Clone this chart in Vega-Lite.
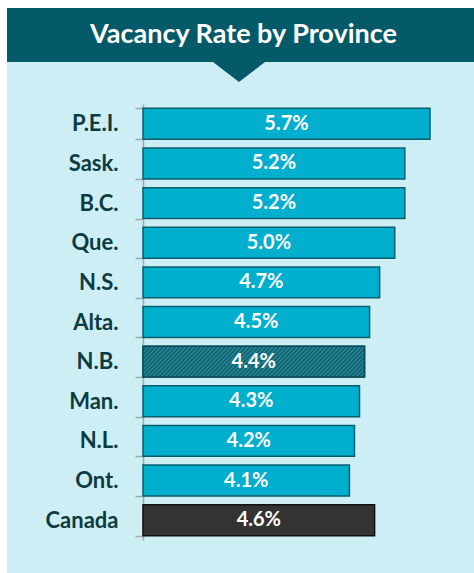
{
  "$schema": "https://vega.github.io/schema/vega-lite/v6.json",
  "background": "white",
  "padding": {"left": 7, "top": 8, "right": 0, "bottom": 0},
  "config": {"view": {"stroke": null}, "font": "Lato"},
  "spacing": 0,
  "bounds": "flush",
  "vconcat": [
    {
      "width": 467,
      "height": 54,
      "view": {"fill": "#045a68", "stroke": null},
      "data": {"values": [{"t": "Vacancy Rate by Province"}]},
      "mark": {"type": "text", "font": "Lato", "fontWeight": "bold", "fontSize": 27, "color": "white", "dx": 3, "baseline": "middle"},
      "encoding": {"text": {"field": "t"}}
    },
    {
      "width": 467,
      "height": 511,
      "view": {"fill": "#cdeef5", "stroke": null},
      "data": {"values": [
        {"p": "P.E.I.", "v": 5.7},
        {"p": "Sask.", "v": 5.2},
        {"p": "B.C.", "v": 5.2},
        {"p": "Que.", "v": 5.0},
        {"p": "N.S.", "v": 4.7},
        {"p": "Alta.", "v": 4.5},
        {"p": "N.B.", "v": 4.4},
        {"p": "Man.", "v": 4.3},
        {"p": "N.L.", "v": 4.2},
        {"p": "Ont.", "v": 4.1},
        {"p": "Canada", "v": 4.6}
      ]},
      "resolve": {"scale": {"y": "independent"}},
      "layer": [
        {
          "encoding": {
            "y": {"field": "p", "type": "nominal", "sort": ["P.E.I.", "Sask.", "B.C.", "Que.", "N.S.", "Alta.", "N.B.", "Man.", "N.L.", "Ont.", "Canada"],
              "scale": {"range": [42, 478], "paddingInner": 0.22, "paddingOuter": 0.11},
              "axis": {"title": null, "offset": -136, "domainColor": "#a6a6a6", "domainWidth": 1.5, "tickColor": "#a6a6a6", "tickWidth": 1.5, "tickSize": 8, "tickBand": "extent", "labelFont": "Lato", "labelFontWeight": "bold", "labelFontSize": 22, "labelColor": "#0d3b42", "labelPadding": 17, "grid": false}},
            "x": {"field": "v", "type": "quantitative", "scale": {"domain": [-2.701, 6.574], "nice": false, "zero": false}, "axis": null}
          },
          "layer": [
            {
              "mark": {"type": "bar", "strokeWidth": 1.5},
              "encoding": {
                "fill": {"condition": {"test": "datum.p === 'Canada'", "value": "#333333"}, "value": "#00aecd"},
                "stroke": {"condition": {"test": "datum.p === 'Canada'", "value": "#111111"}, "value": "#0b5f6d"}
              }
            },
            {
              "transform": [{"filter": "datum.p === 'N.B.'"}],
              "mark": {"type": "bar", "strokeWidth": 1.5, "stroke": "#0b4c57", "fill": {"gradient": "linear", "x1": 0, "y1": 0, "x2": 1.15, "y2": 0.155, "stops": [
                {"offset": 0, "color": "#0b5866"}, {"offset": 0.008, "color": "#2b8c9a"}, {"offset": 0.016, "color": "#0b5866"}, {"offset": 0.024, "color": "#2b8c9a"}, {"offset": 0.032, "color": "#0b5866"}, {"offset": 0.04, "color": "#2b8c9a"}, {"offset": 0.048, "color": "#0b5866"}, {"offset": 0.056, "color": "#2b8c9a"}, {"offset": 0.064, "color": "#0b5866"}, {"offset": 0.072, "color": "#2b8c9a"},
                {"offset": 0.08, "color": "#0b5866"}, {"offset": 0.088, "color": "#2b8c9a"}, {"offset": 0.096, "color": "#0b5866"}, {"offset": 0.104, "color": "#2b8c9a"}, {"offset": 0.112, "color": "#0b5866"}, {"offset": 0.12, "color": "#2b8c9a"}, {"offset": 0.128, "color": "#0b5866"}, {"offset": 0.136, "color": "#2b8c9a"}, {"offset": 0.144, "color": "#0b5866"}, {"offset": 0.152, "color": "#2b8c9a"},
                {"offset": 0.16, "color": "#0b5866"}, {"offset": 0.168, "color": "#2b8c9a"}, {"offset": 0.176, "color": "#0b5866"}, {"offset": 0.184, "color": "#2b8c9a"}, {"offset": 0.192, "color": "#0b5866"}, {"offset": 0.2, "color": "#2b8c9a"}, {"offset": 0.208, "color": "#0b5866"}, {"offset": 0.216, "color": "#2b8c9a"}, {"offset": 0.224, "color": "#0b5866"}, {"offset": 0.232, "color": "#2b8c9a"},
                {"offset": 0.24, "color": "#0b5866"}, {"offset": 0.248, "color": "#2b8c9a"}, {"offset": 0.256, "color": "#0b5866"}, {"offset": 0.264, "color": "#2b8c9a"}, {"offset": 0.272, "color": "#0b5866"}, {"offset": 0.28, "color": "#2b8c9a"}, {"offset": 0.288, "color": "#0b5866"}, {"offset": 0.296, "color": "#2b8c9a"}, {"offset": 0.304, "color": "#0b5866"}, {"offset": 0.312, "color": "#2b8c9a"},
                {"offset": 0.32, "color": "#0b5866"}, {"offset": 0.328, "color": "#2b8c9a"}, {"offset": 0.336, "color": "#0b5866"}, {"offset": 0.344, "color": "#2b8c9a"}, {"offset": 0.352, "color": "#0b5866"}, {"offset": 0.36, "color": "#2b8c9a"}, {"offset": 0.368, "color": "#0b5866"}, {"offset": 0.376, "color": "#2b8c9a"}, {"offset": 0.384, "color": "#0b5866"}, {"offset": 0.392, "color": "#2b8c9a"},
                {"offset": 0.4, "color": "#0b5866"}, {"offset": 0.408, "color": "#2b8c9a"}, {"offset": 0.416, "color": "#0b5866"}, {"offset": 0.424, "color": "#2b8c9a"}, {"offset": 0.432, "color": "#0b5866"}, {"offset": 0.44, "color": "#2b8c9a"}, {"offset": 0.448, "color": "#0b5866"}, {"offset": 0.456, "color": "#2b8c9a"}, {"offset": 0.464, "color": "#0b5866"}, {"offset": 0.472, "color": "#2b8c9a"},
                {"offset": 0.48, "color": "#0b5866"}, {"offset": 0.488, "color": "#2b8c9a"}, {"offset": 0.496, "color": "#0b5866"}, {"offset": 0.504, "color": "#2b8c9a"}, {"offset": 0.512, "color": "#0b5866"}, {"offset": 0.52, "color": "#2b8c9a"}, {"offset": 0.528, "color": "#0b5866"}, {"offset": 0.536, "color": "#2b8c9a"}, {"offset": 0.544, "color": "#0b5866"}, {"offset": 0.552, "color": "#2b8c9a"},
                {"offset": 0.56, "color": "#0b5866"}, {"offset": 0.568, "color": "#2b8c9a"}, {"offset": 0.576, "color": "#0b5866"}, {"offset": 0.584, "color": "#2b8c9a"}, {"offset": 0.592, "color": "#0b5866"}, {"offset": 0.6, "color": "#2b8c9a"}, {"offset": 0.608, "color": "#0b5866"}, {"offset": 0.616, "color": "#2b8c9a"}, {"offset": 0.624, "color": "#0b5866"}, {"offset": 0.632, "color": "#2b8c9a"},
                {"offset": 0.64, "color": "#0b5866"}, {"offset": 0.648, "color": "#2b8c9a"}, {"offset": 0.656, "color": "#0b5866"}, {"offset": 0.664, "color": "#2b8c9a"}, {"offset": 0.672, "color": "#0b5866"}, {"offset": 0.68, "color": "#2b8c9a"}, {"offset": 0.688, "color": "#0b5866"}, {"offset": 0.696, "color": "#2b8c9a"}, {"offset": 0.704, "color": "#0b5866"}, {"offset": 0.712, "color": "#2b8c9a"},
                {"offset": 0.72, "color": "#0b5866"}, {"offset": 0.728, "color": "#2b8c9a"}, {"offset": 0.736, "color": "#0b5866"}, {"offset": 0.744, "color": "#2b8c9a"}, {"offset": 0.752, "color": "#0b5866"}, {"offset": 0.76, "color": "#2b8c9a"}, {"offset": 0.768, "color": "#0b5866"}, {"offset": 0.776, "color": "#2b8c9a"}, {"offset": 0.784, "color": "#0b5866"}, {"offset": 0.792, "color": "#2b8c9a"},
                {"offset": 0.8, "color": "#0b5866"}, {"offset": 0.808, "color": "#2b8c9a"}, {"offset": 0.816, "color": "#0b5866"}, {"offset": 0.824, "color": "#2b8c9a"}, {"offset": 0.832, "color": "#0b5866"}, {"offset": 0.84, "color": "#2b8c9a"}, {"offset": 0.848, "color": "#0b5866"}, {"offset": 0.856, "color": "#2b8c9a"}, {"offset": 0.864, "color": "#0b5866"}, {"offset": 0.872, "color": "#2b8c9a"},
                {"offset": 0.88, "color": "#0b5866"}, {"offset": 0.888, "color": "#2b8c9a"}, {"offset": 0.896, "color": "#0b5866"}, {"offset": 0.904, "color": "#2b8c9a"}, {"offset": 0.912, "color": "#0b5866"}, {"offset": 0.92, "color": "#2b8c9a"}, {"offset": 0.928, "color": "#0b5866"}, {"offset": 0.936, "color": "#2b8c9a"}, {"offset": 0.944, "color": "#0b5866"}, {"offset": 0.952, "color": "#2b8c9a"},
                {"offset": 0.96, "color": "#0b5866"}, {"offset": 0.968, "color": "#2b8c9a"}, {"offset": 0.976, "color": "#0b5866"}, {"offset": 0.984, "color": "#2b8c9a"}, {"offset": 0.992, "color": "#0b5866"}, {"offset": 1, "color": "#2b8c9a"}
              ]}}
            },
            {
              "transform": [
                {"calculate": "datum.v / 2", "as": "mid"},
                {"calculate": "format(datum.v, '.1f') + '%'", "as": "lab"}
              ],
              "mark": {"type": "text", "font": "Lato", "fontWeight": "bold", "fontSize": 20, "color": "white", "baseline": "middle", "align": "center"},
              "encoding": {
                "x": {"field": "mid", "type": "quantitative"},
                "text": {"field": "lab"}
              }
            }
          ]
        },
        {
          "data": {"values": [{"cx": 1.907, "cy": 1}]},
          "mark": {"type": "point", "shape": "M-1,0L1,0L0,0.77Z", "size": 2704, "filled": true, "fill": "#045a68", "opacity": 1, "strokeWidth": 0},
          "encoding": {
            "x": {"field": "cx", "type": "quantitative"},
            "y": {"field": "cy", "type": "quantitative", "scale": {"domain": [0, 1]}, "axis": null}
          }
        }
      ]
    }
  ]
}
